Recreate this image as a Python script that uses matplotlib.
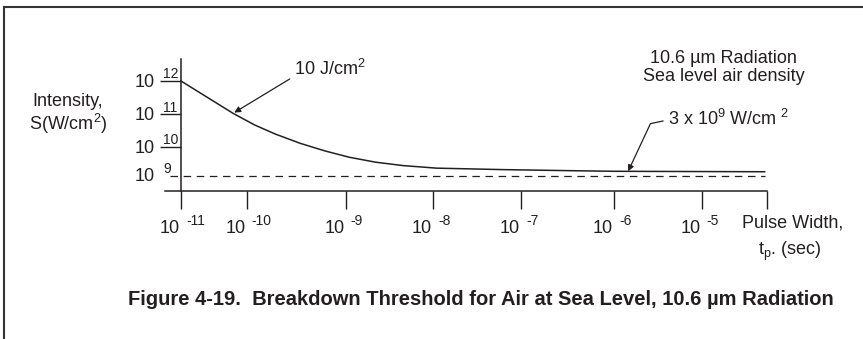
import numpy as np
import matplotlib.pyplot as plt
from matplotlib.lines import Line2D
from matplotlib.ticker import NullLocator

plt.rcParams['font.family'] = ['Liberation Sans', 'DejaVu Sans']
plt.rcParams['mathtext.fontset'] = 'custom'
plt.rcParams['mathtext.rm'] = 'Liberation Sans'
plt.rcParams['mathtext.it'] = 'Liberation Sans:italic'
plt.rcParams['mathtext.bf'] = 'Liberation Sans:bold'
plt.rcParams['mathtext.default'] = 'regular'

# breakdown threshold curve
pulse_width = [1e-11, 3.0e-11, 6.2e-11, 1.2e-10, 1.95e-10, 3.5e-10, 6.2e-10, 1.1e-9,
               2.2e-9, 4.6e-9, 1.1e-8, 6.3e-8, 3.4e-7, 1.0e-6, 9.1e-5]
intensity = [1.0e12, 2.6e11, 1.07e11, 4.7e10, 2.45e10, 1.26e10, 7.1e9, 4.3e9,
             2.9e9, 2.2e9, 1.8e9, 1.6e9, 1.47e9, 1.4e9, 1.35e9]
threshold = 1e9
x_exponents = [-11, -10, -9, -8, -7, -6, -5]
y_exponents = [9, 10, 11, 12]
note_point = (1.45e-6, 1.4e9)   # where the "3 x 10^9" leader lands

INK = '#231f20'
W, H = 863, 339

# the original drawing spaces its decades unevenly -> piecewise log scale
x_logs = [-11.24, -11, -10, -9, -8, -7, -6, -5, -4]
x_px = [165, 181, 246.7, 345.7, 433, 521, 614, 701.7, 767.3]
y_logs = [8.45, 9, 10, 11, 12, 12.67]
y_px = [-191, -175.5, -146.7, -114.3, -81, -59]


def fwd_x(v):
    return np.interp(np.log10(np.clip(v, 1e-300, None)), x_logs, x_px)


def inv_x(p):
    return 10 ** np.interp(p, x_px, x_logs)


def fwd_y(v):
    return np.interp(np.log10(np.clip(v, 1e-300, None)), y_logs, y_px)


def inv_y(p):
    return 10 ** np.interp(p, y_px, y_logs)


def fig_xy(x, y):
    return (x / W, 1 - y / H)


fig = plt.figure(figsize=(W / 100, H / 100), dpi=100)
ax = fig.add_axes([165 / W, (H - 191) / H, (767.3 - 165) / W, (191 - 59) / H])
ax.set_xscale('function', functions=(fwd_x, inv_x))
ax.set_yscale('function', functions=(fwd_y, inv_y))
ax.set_xlim(10 ** -11.24, 10 ** -4)
ax.set_ylim(10 ** 8.45, 10 ** 12.67)

ax.plot(pulse_width, intensity, color=INK, lw=1.1)
ax.hlines(threshold, 10 ** -11.17, pulse_width[-1], color=INK, lw=0.9,
          linestyles=(0, (6, 4.5)))

for s in ['top', 'right']:
    ax.spines[s].set_visible(False)
ax.spines['left'].set_position(('data', 1e-11))
for s in ['left', 'bottom']:
    ax.spines[s].set_color(INK)
    ax.spines[s].set_linewidth(1.1)

ax.set_xticks([10.0 ** e for e in x_exponents] + [1e-4])
ax.set_yticks([10.0 ** e for e in y_exponents[1:]])
ax.xaxis.set_minor_locator(NullLocator())
ax.yaxis.set_minor_locator(NullLocator())
ax.tick_params(axis='x', direction='out', length=13, width=1.0, color=INK,
               labelbottom=False)
ax.tick_params(axis='y', direction='out', length=15, width=1.0, color=INK,
               labelleft=False)

# tick labels written as "10" with a raised exponent
for e in x_exponents:
    ax.annotate('10', xy=(10.0 ** e, 0), xycoords=('data', 'axes fraction'),
                xytext=(-0.7, -30), textcoords='offset points',
                ha='right', va='baseline', fontsize=13, color=INK)
    ax.annotate(str(e), xy=(10.0 ** e, 0), xycoords=('data', 'axes fraction'),
                xytext=(3.6, -24.5), textcoords='offset points',
                ha='left', va='baseline', fontsize=10, color=INK)
for e in y_exponents:
    ax.annotate('10', xy=(1e-11, 10.0 ** e), xycoords='data',
                xytext=(-18.7, -4.3), textcoords='offset points',
                ha='right', va='baseline', fontsize=13, color=INK)
    ax.annotate(str(e), xy=(1e-11, 10.0 ** e), xycoords='data',
                xytext=(-13, 2), textcoords='offset points',
                ha='left', va='baseline', fontsize=10, color=INK)

# axis titles
fig.text(*fig_xy(68, 106), 'Intensity,', ha='center', va='baseline',
         fontsize=13, color=INK)
fig.text(*fig_xy(68, 130), 'S(W/cm$^2$)', ha='center', va='baseline',
         fontsize=13, color=INK)
fig.text(*fig_xy(742, 227), 'Pulse Width,', ha='left', va='baseline',
         fontsize=13, color=INK)
fig.text(*fig_xy(758, 255), 't$_p$. (sec)', ha='left', va='baseline',
         fontsize=13, color=INK)

fig.text(*fig_xy(723.5, 63), '10.6 \u00b5m Radiation', ha='center',
         va='baseline', fontsize=13, color=INK)
fig.text(*fig_xy(723.5, 81), 'Sea level air density', ha='center',
         va='baseline', fontsize=13, color=INK)

ax.annotate('10 J/cm$^2$', xy=(pulse_width[2], intensity[2]),
            xytext=fig_xy(294, 75), textcoords='figure fraction',
            ha='left', va='baseline', fontsize=13, color=INK,
            arrowprops=dict(arrowstyle='-|>', color=INK, lw=0.9,
                            mutation_scale=9, shrinkA=0, shrinkB=1,
                            relpos=(-0.06, 0)))
ax.annotate('3 x 10$^9$ W/cm $^2$', xy=note_point,
            xytext=fig_xy(668, 125), textcoords='figure fraction',
            ha='left', va='baseline', fontsize=13, color=INK,
            arrowprops=dict(arrowstyle='-|>', color=INK, lw=0.9,
                            mutation_scale=9, shrinkA=0, shrinkB=0,
                            relpos=(-0.04, 0.4),
                            connectionstyle='arc,angleA=192,armA=13,'
                                            'angleB=70,armB=0,rad=0'))

fig.text(*fig_xy(480.5, 305),
         'Figure 4-19.  Breakdown Threshold for Air at Sea Level, 10.6 \u00b5m Radiation',
         ha='center', va='baseline', fontsize=14.5, fontweight='bold', color=INK)

# page frame (top and left edges only)
fig.add_artist(Line2D([4 / W, 1], [1 - 7 / H] * 2, color='#333333', lw=1.5))
fig.add_artist(Line2D([4 / W] * 2, [0, 1 - 7 / H], color='#333333', lw=1.5))

fig.savefig('out.png', dpi=100)
